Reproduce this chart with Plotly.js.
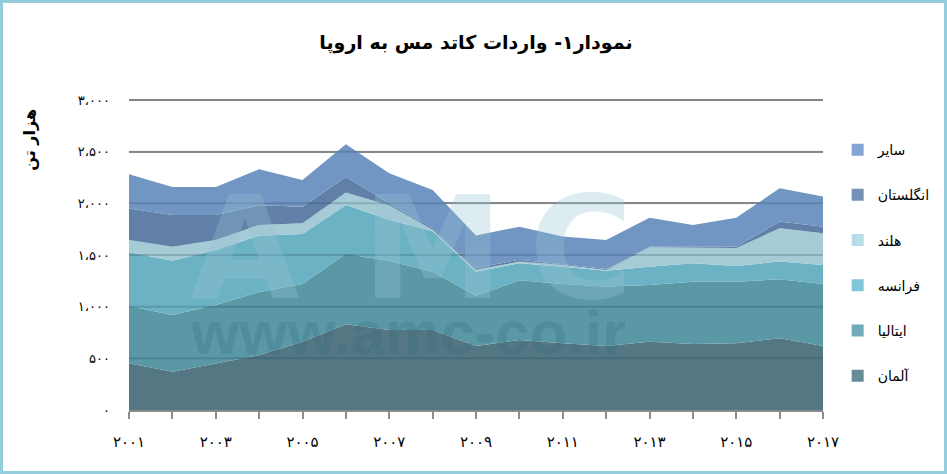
<!DOCTYPE html>
<html>
<head>
<meta charset="utf-8">
<script src="https://cdn.plot.ly/plotly-3.0.1.min.js"></script>
<style>
  html, body { margin: 0; padding: 0; background: #fff; }
  #frame { width: 941px; height: 468px; border: 3px solid #93cddd; }
  #chart { width: 941px; height: 468px; }
</style>
</head>
<body>
<div id="frame"><div id="chart"></div></div>
<script>
// years 2001..2017, thousand tonnes
var years = [2001, 2002, 2003, 2004, 2005, 2006, 2007, 2008, 2009, 2010, 2011, 2012, 2013, 2014, 2015, 2016, 2017];
var germany = [452, 371, 450, 532, 661, 829, 774, 774, 619, 677, 645, 619, 661, 639, 645, 694, 619];
var italy = [554, 548, 566, 610, 558, 682, 668, 565, 486, 578, 574, 575, 549, 603, 597, 571, 600];
var france = [520, 526, 532, 545, 484, 472, 398, 391, 234, 165, 168, 154, 177, 178, 152, 171, 184];
var netherlands = [119, 136, 97, 103, 104, 123, 140, 15, 18, 16, 16, 7, 188, 155, 174, 322, 307];
var uk = [304, 306, 242, 191, 161, 149, 20, 15, 18, 19, 7, 10, 6, 6, 13, 65, 64];
var others = [332, 271, 271, 348, 258, 316, 290, 369, 313, 319, 268, 280, 280, 209, 280, 322, 291];

var names = ['آلمان', 'ایتالیا', 'فرانسه', 'هلند', 'انگلستان', 'سایر'];
var fills = ['#537884', '#5a98a6', '#6cb2c5', '#a5ccd6', '#6080a7', '#7196c4'];
var swatches = ['#668c96', '#6fabb9', '#80c6d6', '#b7dde6', '#7592b6', '#84a5d3'];
var yTicks = [0, 500, 1000, 1500, 2000, 2500, 3000];
var yMax = 3000;

function fa(s) {
  var d = '۰۱۲۳۴۵۶۷۸۹';
  return String(s).replace(/[0-9]/g, function (c) { return d[+c]; });
}
function faNum(n) {
  var s = n >= 1000 ? Math.floor(n / 1000) + ',' + String(n % 1000).padStart(3, '0') : String(n);
  return fa(s).replace(',', '،');
}

var series = [germany, italy, france, netherlands, uk, others];
var traces = [];
series.forEach(function (vals, i) {
  traces.push({
    x: years, y: vals, type: 'scatter', mode: 'lines',
    stackgroup: 'one', fill: 'tonexty',
    line: {width: 0, color: fills[i]}, fillcolor: fills[i],
    showlegend: false, name: names[i]
  });
});
// legend entries, top to bottom as in the picture
for (var i = names.length - 1; i >= 0; i--) {
  traces.push({
    x: [null], y: [null], type: 'scatter', mode: 'markers',
    marker: {symbol: 'square', size: 12, color: swatches[i]},
    name: names[i], legendgroup: 'g' + i, showlegend: true
  });
}

// grid drawn again on top, so it shows through the areas like the original
var shapes = yTicks.slice(1).map(function (v) {
  return {type: 'line', xref: 'paper', x0: 0, x1: 1, yref: 'paper', y0: v / yMax, y1: v / yMax,
          layer: 'above', line: {color: 'rgba(20,50,70,0.2)', width: 2}};
});
shapes.push({type: 'line', xref: 'paper', x0: 0, x1: 1, yref: 'paper', y0: 1, y1: 1,
             layer: 'below', line: {color: '#9a9a9a', width: 2}});

var wm = 'rgba(150,195,212,0.32)';
var annotations = [
  {text: 'هزار تن', xref: 'paper', yref: 'paper', x: -0.143, y: 0.871,
   xanchor: 'center', yanchor: 'middle', showarrow: false, textangle: -90,
   font: {family: 'DejaVu Sans', size: 16, color: '#000', weight: 'bold'}},
  {text: 'A', xref: 'paper', yref: 'paper', x: 0.167, y: 0.52, xanchor: 'center', yanchor: 'middle', showarrow: false,
   font: {family: 'DejaVu Sans', size: 142, color: wm, weight: 'bold'}},
  {text: 'M', xref: 'paper', yref: 'paper', x: 0.438, y: 0.52, xanchor: 'center', yanchor: 'middle', showarrow: false,
   font: {family: 'DejaVu Sans', size: 142, color: wm, weight: 'bold'}},
  {text: 'C', xref: 'paper', yref: 'paper', x: 0.652, y: 0.52, xanchor: 'center', yanchor: 'middle', showarrow: false,
   font: {family: 'DejaVu Sans', size: 142, color: wm, weight: 'bold'}},
  {text: 'www.amc-co.ir', xref: 'paper', yref: 'paper', x: 0.402, y: 0.25, xanchor: 'center', yanchor: 'middle', showarrow: false,
   font: {family: 'Liberation Sans', size: 62, color: 'rgba(40,100,120,0.2)', weight: 'bold'}}
];

var layout = {
  width: 941, height: 468,
  margin: {l: 126, r: 121, t: 97, b: 61},
  paper_bgcolor: '#fff', plot_bgcolor: '#fff',
  title: {text: 'نمودار۱- واردات کاتد مس به اروپا', x: 0.5, xref: 'paper', xanchor: 'center',
          y: 0.93, yref: 'container', yanchor: 'top',
          font: {family: 'DejaVu Sans', size: 19, color: '#000', weight: 'bold'}},
  xaxis: {
    range: [2001, 2017], tickvals: years,
    ticktext: years.map(function (y) { return y % 2 ? fa(y) : ''; }),
    ticks: 'outside', ticklen: 7, tickwidth: 2, tickcolor: '#8c8c8c',
    showline: true, linecolor: '#8c8c8c', linewidth: 2,
    showgrid: false, zeroline: false, ticklabelstandoff: 10,
    tickfont: {family: 'DejaVu Sans', size: 15, color: '#000'}
  },
  yaxis: {
    range: [0, yMax], tickvals: yTicks, ticktext: yTicks.map(faNum),
    showgrid: true, gridcolor: '#9a9a9a', gridwidth: 2,
    zeroline: false, showline: false, ticks: '', ticklabelstandoff: 18,
    tickfont: {family: 'DejaVu Sans', size: 13, color: '#000'}
  },
  legend: {
    xref: 'container', yref: 'container',
    x: 0.887, xanchor: 'left', y: 0.72, yanchor: 'top',
    maxheight: 420,
    tracegroupgap: 24, font: {family: 'DejaVu Sans', size: 14, color: '#000'},
    bgcolor: 'rgba(0,0,0,0)'
  },
  shapes: shapes,
  annotations: annotations,
  showlegend: true
};

Plotly.newPlot('chart', traces, layout, {displayModeBar: false, staticPlot: true});
</script>
</body>
</html>
